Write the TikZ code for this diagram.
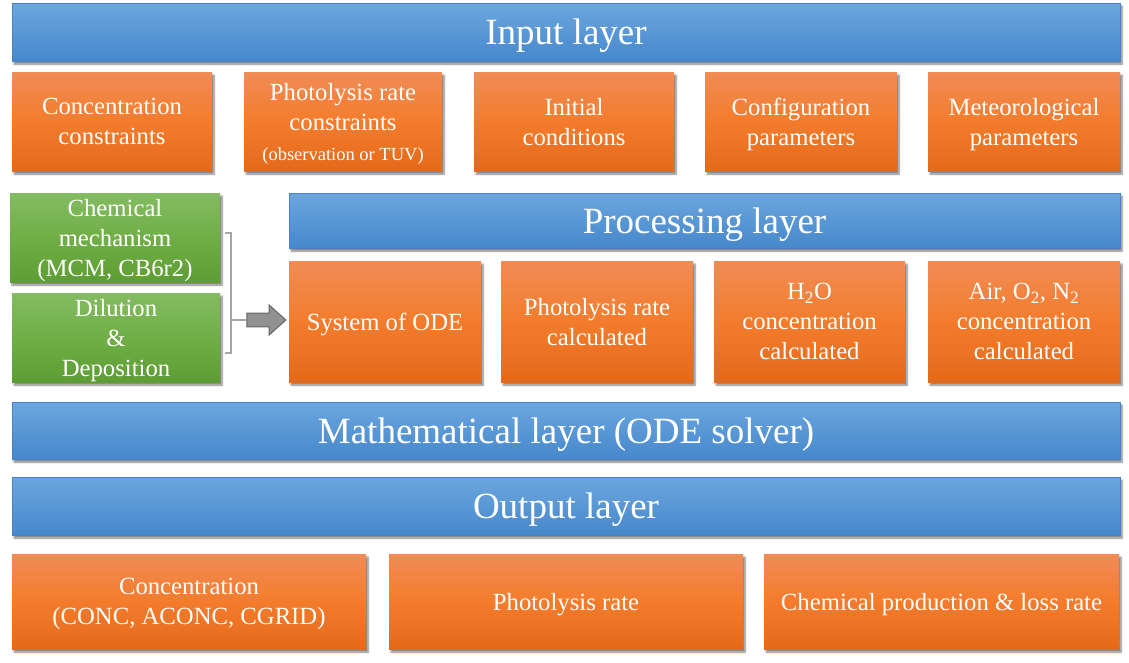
\documentclass[tikz,border=0pt]{standalone}
\usepackage{fontspec}
\setmainfont{Liberation Serif}
\usepackage{tikz}
\usetikzlibrary{shadows.blur,shapes.arrows}
\definecolor{bluetop}{RGB}{108,166,222}
\definecolor{bluebot}{RGB}{70,136,204}
\definecolor{blueline}{RGB}{72,130,196}
\definecolor{orangetop}{RGB}{240,140,86}
\definecolor{orangemid}{RGB}{243,124,44}
\definecolor{orangebot}{RGB}{228,106,26}
\definecolor{greentop}{RGB}{132,188,98}
\definecolor{greenmid}{RGB}{112,174,70}
\definecolor{greenbot}{RGB}{94,156,52}
\definecolor{bracegray}{RGB}{166,166,166}
\definecolor{arrowgray}{RGB}{145,145,145}

\tikzset{
  boxshadow/.style={blur shadow={shadow xshift=2pt, shadow yshift=-3pt,
      shadow blur steps=6, shadow opacity=50}},
  layerbar/.style={rectangle, boxshadow, draw=blueline, line width=1pt,
      top color=bluetop, bottom color=bluebot, text=white,
      font=\fontsize{37}{40}\selectfont, inner sep=0pt, text depth=0pt},
  orangebox/.style={rectangle, boxshadow, top color=orangetop,
      bottom color=orangebot, middle color=orangemid, text=white,
      font=\fontsize{24.7}{30}\selectfont, align=center, inner sep=0pt,
      text depth=0pt},
  greenbox/.style={rectangle, boxshadow, top color=greentop,
      bottom color=greenbot, middle color=greenmid, text=white,
      font=\fontsize{24.7}{30}\selectfont, align=center, inner sep=0pt,
      text depth=0pt},
  bracket/.style={draw=bracegray, line width=1.3pt},
}

\begin{document}
\begin{tikzpicture}[x=1pt, y=-1pt]

% Cadre
\useasboundingbox (0,0) rectangle (1129,662);

% Couche d'entree
\node[layerbar, minimum width=1108pt, minimum height=58pt] (input) at (566,32) {Input layer};

\node[orangebox, minimum width=200pt, minimum height=99pt] (conc)  at (112,121.5) {Concentration\\constraints};
\node[orangebox, minimum width=198pt, minimum height=99pt] (photo) at (343,121.5)
  {Photolysis rate\\constraints\\{\fontsize{18.5}{22}\selectfont (observation or TUV)}};
\node[orangebox, minimum width=200pt, minimum height=99pt] (init)  at (574,121.5) {Initial\\conditions};
\node[orangebox, minimum width=192pt, minimum height=99pt] (config) at (801,121.5) {Configuration\\parameters};
\node[orangebox, minimum width=192pt, minimum height=99pt] (meteo) at (1024,121.5) {Meteorological\\parameters};

% Mecanisme et depot
\node[greenbox, minimum width=210pt, minimum height=89pt] (mech) at (115,237.5) {Chemical\\mechanism\\(MCM, CB6r2)};
\node[greenbox, minimum width=208pt, minimum height=89pt] (dilu) at (116,337.5) {Dilution\\\&\\Deposition};

% Accolade et fleche
\coordinate (brtop) at (225,233);
\coordinate (brbot) at (225,353);
\coordinate (brmid) at (231,320);
\draw[bracket] (brtop) -- ++(6,0) |- (brbot);
\node[single arrow, draw=arrowgray!70!black, fill=arrowgray, line width=1pt,
  minimum width=30pt, minimum height=39pt, inner sep=5.5pt,
  single arrow tip angle=84] (arr) at (262.5,320) {};
\draw[bracket] (brmid) -- (arr.tail);

% Couche de traitement
\node[layerbar, minimum width=831pt, minimum height=55pt] (proc) at (704.5,220.5) {Processing layer};

\node[orangebox, minimum width=192pt, minimum height=121pt] (ode)  at (385,321.5) {System of ODE};
\node[orangebox, minimum width=192pt, minimum height=121pt] (jcal) at (597,321.5) {Photolysis rate\\calculated};
\node[orangebox, minimum width=191pt, minimum height=121pt] (water) at (809.5,321.5)
  {H\textsubscript{2}O\\concentration\\calculated};
\node[orangebox, minimum width=192pt, minimum height=121pt] (air) at (1024,321.5)
  {Air, O\textsubscript{2}, N\textsubscript{2}\\concentration\\calculated};

% Couche mathematique
\node[layerbar, minimum width=1108pt, minimum height=57pt] (math) at (566,430.5) {Mathematical layer (ODE solver)};

% Couche de sortie
\node[layerbar, minimum width=1108pt, minimum height=58pt] (output) at (566,506) {Output layer};

\node[orangebox, minimum width=354pt, minimum height=95pt] (outconc) at (189,601.5) {Concentration\\(CONC, ACONC, CGRID)};
\node[orangebox, minimum width=354pt, minimum height=95pt] (outj)    at (566,601.5) {Photolysis rate};
\node[orangebox, minimum width=355pt, minimum height=95pt] (outprod) at (941.5,601.5) {Chemical production \& loss rate};

\end{tikzpicture}
\end{document}
